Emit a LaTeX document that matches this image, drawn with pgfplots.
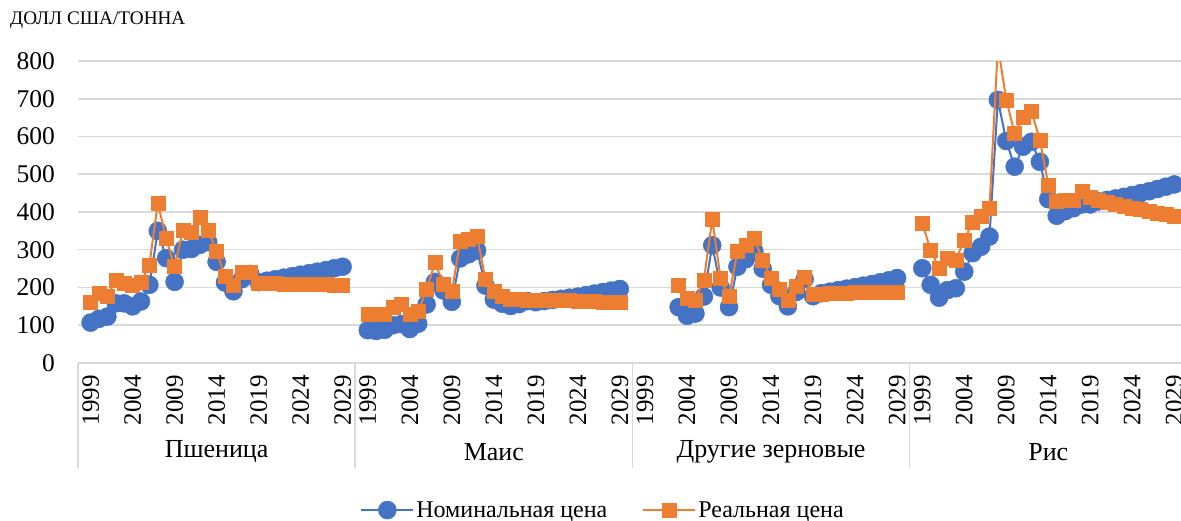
\documentclass[border=0pt]{standalone}
\usepackage{fontspec}
\setmainfont{Liberation Serif}
\usepackage{pgfplots}
\pgfplotsset{compat=1.18}
\usepackage{pgfplotstable}
\definecolor{cblue}{HTML}{4472C4}
\definecolor{corange}{HTML}{ED7D31}
\definecolor{cgrid}{HTML}{D9D9D9}

% x = slot position: group g (0..3), year y -> 33g + (y-1998)
\pgfplotstableread{
x nom real
1 107 160
2 117 185
3 123 177
4 158 220
5 158 211
6 150 205
7 163 215
8 207 260
9 350 423
10 278 330
11 215 255
12 300 352
13 302 347
14 313 385
15 320 352
16 268 296
17 213 229
18 190 207
19 222 240
20 236 240
21 214 212
22 218 210
23 222 210
24 226 209
25 230 209
26 234 208
27 238 208
28 242 208
29 246 208
30 251 207
31 255 207
}\wheat

\pgfplotstableread{
x nom real
34 87 128
35 85 128
36 88 130
37 100 147
38 103 155
39 90 128
40 104 137
41 155 195
42 215 266
43 192 208
44 162 189
45 277 322
46 288 327
47 298 336
48 205 222
49 168 189
50 157 176
51 151 168
52 156 168
53 164 167
54 161 166
55 164 166
56 167 165
57 170 165
58 173 165
59 176 164
60 180 164
61 184 163
62 188 162
63 192 161
64 196 160
}\maize

\pgfplotstableread{
x nom real
71 148 207
72 125 171
73 131 167
74 176 220
75 312 380
76 200 224
77 148 177
78 255 295
79 275 313
80 296 330
81 250 273
82 207 224
83 177 196
84 150 167
85 188 202
86 222 227
87 177 181
88 185 183
89 189 184
90 193 185
91 197 186
92 201 187
93 205 188
94 209 188
95 214 188
96 219 188
97 225 188
}\other

\pgfplotstableread{
x nom real
100 251 370
101 207 299
102 173 251
103 193 277
104 198 273
105 242 326
106 291 374
107 308 388
108 335 410
109 697 840
110 588 697
111 520 608
112 573 652
113 586 666
114 533 591
115 434 472
116 390 428
117 402 432
118 410 432
119 420 455
120 420 438
121 428 430
122 432 425
123 436 420
124 440 415
125 445 411
126 450 406
127 455 402
128 461 398
129 467 393
130 473 388
}\rice

\begin{document}
\begin{tikzpicture}
\useasboundingbox (0,0) rectangle (1181pt,521pt);
\begin{axis}[
  at={(78pt,158pt)}, anchor=south west,
  scale only axis, width=1103pt, height=302pt,
  xmin=-0.5, xmax=130.8, ymin=0, ymax=800,
  ytick={0,100,...,800},
  ymajorgrids, grid style={cgrid, line width=1.5pt},
  axis line style={draw=none},
  major tick length=0pt,
  clip mode=individual, clip marker paths=true,
  /pgf/number format/assume math mode=true,
  xtick={1,6,11,16,21,26,31,34,39,44,49,54,59,64,67,72,77,82,87,92,97,100,105,110,115,120,125,130},
  xticklabels={1999,2004,2009,2014,2019,2024,2029,1999,2004,2009,2014,2019,2024,2029,1999,2004,2009,2014,2019,2024,2029,1999,2004,2009,2014,2019,2024,2029},
  xticklabel style={yshift=-12pt, rotate=90, anchor=east, inner sep=0pt, font=\rmfamily\fontsize{25}{25}\selectfont, text=black},
  yticklabel style={inner sep=0pt, xshift=-23pt, font=\rmfamily\fontsize{25.5}{25.5}\selectfont, text=black},
  unbounded coords=jump,
  legend columns=2,
  legend style={at={(0.476,-0.487)}, anchor=center, draw=none, fill=none,
    font=\rmfamily\fontsize{24}{24}\selectfont,
    /tikz/every even column/.append style={column sep=33pt}},
  legend cell align=left,
  legend image code/.code={\draw[mark repeat=2,mark phase=2] plot coordinates {(0pt,0pt) (26pt,0pt) (52pt,0pt)};},
  nomstyle/.style={color=cblue, line width=2pt, mark=*, mark size=9pt, mark options={line width=0.5pt, fill=cblue, draw=cblue}},
  realstyle/.style={color=corange, line width=2pt, mark=square*, mark size=7pt, mark options={line width=0.5pt, fill=corange, draw=corange}},
]
\addplot[nomstyle] table[x=x,y=nom] {\wheat};
\addlegendentry{Номинальная цена}
\addplot[realstyle] table[x=x,y=real] {\wheat};
\addlegendentry{Реальная цена}
\addplot[nomstyle, forget plot] table[x=x,y=nom] {\maize};
\addplot[realstyle, forget plot] table[x=x,y=real] {\maize};
\addplot[nomstyle, forget plot] table[x=x,y=nom] {\other};
\addplot[realstyle, forget plot] table[x=x,y=real] {\other};
\addplot[nomstyle, forget plot] table[x=x,y=nom] {\rice};
\addplot[realstyle, forget plot] table[x=x,y=real] {\rice};

\foreach \s in {-0.5,32.5,65.5,98.5} {
  \edef\tmp{\noexpand\draw[cgrid, line width=1.5pt] (axis cs:\s,0) -- ++(0pt,-105pt);}
  \tmp
}
\node[font=\rmfamily\fontsize{26}{26}\selectfont] at (axis cs:16,0) [yshift=-89pt] {Пшеница};
\node[font=\rmfamily\fontsize{26}{26}\selectfont] at (axis cs:49,0) [yshift=-89pt] {Маис};
\node[font=\rmfamily\fontsize{26}{26}\selectfont] at (axis cs:82,0) [yshift=-89pt] {Другие зерновые};
\node[font=\rmfamily\fontsize{26}{26}\selectfont] at (axis cs:115,0) [yshift=-89pt] {Рис};
\end{axis}
\node[anchor=west, inner sep=0pt, font=\rmfamily\fontsize{19.2}{19.2}\selectfont] at (10pt,501pt) {ДОЛЛ США/ТОННА};
\end{tikzpicture}
\end{document}
